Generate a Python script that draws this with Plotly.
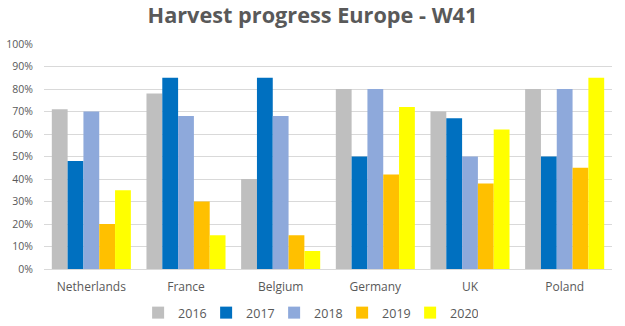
import plotly.graph_objects as go

countries = ["Netherlands", "France", "Belgium", "Germany", "UK", "Poland"]
years = ["2016", "2017", "2018", "2019", "2020"]
v2016 = [71, 78, 40, 80, 70, 80]
v2017 = [48, 85, 85, 50, 67, 50]
v2018 = [70, 68, 68, 80, 50, 80]
v2019 = [20, 30, 15, 42, 38, 45]
v2020 = [35, 15, 8, 72, 62, 85]
series = [v2016, v2017, v2018, v2019, v2020]
colors = ["#BFBFBF", "#0070C0", "#8EA9DB", "#FFC000", "#FFFF00"]

fig = go.Figure()
for y, vals, c in zip(years, series, colors):
    fig.add_trace(go.Bar(x=countries, y=[v / 100 for v in vals], name=y,
                         marker=dict(color=c, line=dict(width=0))))

fig.update_layout(
    width=625, height=326,
    margin=dict(l=44, r=13, t=44, b=57),
    paper_bgcolor="white", plot_bgcolor="white",
    barmode="group", bargap=0.165, bargroupgap=0,
    title=dict(text="<b>Harvest progress Europe - W41</b>", x=0.5, xanchor="center",
               y=1 - 15 / 326, yanchor="middle",
               font=dict(family="Open Sans", size=21.7, color="#595959")),
    font=dict(family="Open Sans", color="#595959", size=11),
    yaxis=dict(range=[0, 1.0], dtick=0.1, tickformat=".0%", gridcolor="#D9D9D9",
               gridwidth=1, zeroline=False, showline=False, ticks="",
               ticklabelstandoff=10, automargin=False,
               tickfont=dict(size=10.5, color="#595959")),
    xaxis=dict(showline=True, linecolor="#D9D9D9", ticks="", ticklabelstandoff=7,
               automargin=False, tickfont=dict(size=12, color="#595959")),
    legend=dict(orientation="h", x=0.465, xanchor="center",
                yref="container", y=1 - 313 / 326, yanchor="middle",
                font=dict(size=12.5, color="#595959"), itemwidth=30,
                entrywidth=23, entrywidthmode="pixels",
                tracegroupgap=0),
    showlegend=True,
)
fig.write_html("out.html")
